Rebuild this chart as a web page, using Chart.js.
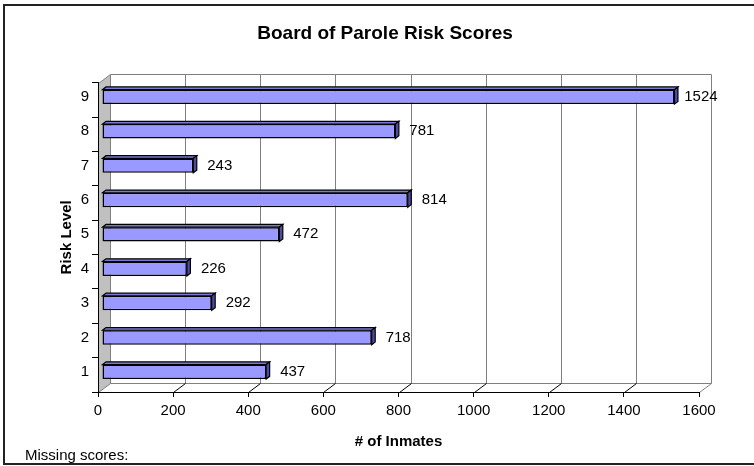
<!DOCTYPE html>
<html>
<head>
<meta charset="utf-8">
<script src="https://cdn.jsdelivr.net/npm/chart.js@4"></script>
<style>
  html, body { margin: 0; padding: 0; background: #fff; }
</style>
</head>
<body>
<canvas id="riskChart" width="754" height="466"></canvas>
<script>
var riskLevels = ["1", "2", "3", "4", "5", "6", "7", "8", "9"];
var inmateCounts = [437, 718, 292, 226, 472, 814, 243, 781, 1524];
var xMin = 0, xMax = 1600, xStep = 200;
var chartTitle = "Board of Parole Risk Scores";
var xTitle = "# of Inmates";
var yTitle = "Risk Level";
var footNote = "Missing scores:";

var FONT = '"Liberation Sans", Arial, sans-serif';
var WALL_DX = 12, WALL_DY = 9;      // depth of the 3d walls
var SHIFT_X = 4, SHIFT_Y = 3;       // bars sit a third deep into the box
var BAR_DX = 3.5, BAR_DY = 2.7;     // depth of each bar

function px(v) { return Math.round(v) + 0.5; } // crisp 1px lines

var frame3d = {
    id: "frame3d",
    beforeDraw: function (chart) {
        var ctx = chart.ctx, a = chart.chartArea, xs = chart.scales.x;
        var L = px(a.left), B = px(a.bottom), T = px(a.top), R = px(a.right);
        ctx.save();
        ctx.fillStyle = "#fff";
        ctx.fillRect(0, 0, chart.width, chart.height);

        // outer frame (runs off the right edge)
        ctx.strokeStyle = "#222";
        ctx.lineWidth = 2;
        ctx.strokeRect(4, 5, chart.width + 20, 459);

        // title + footnote
        ctx.fillStyle = "#000";
        ctx.font = "bold 19px " + FONT;
        ctx.textAlign = "center";
        ctx.textBaseline = "alphabetic";
        ctx.fillText(chartTitle, 385, 39);
        ctx.font = "15px " + FONT;
        ctx.textAlign = "left";
        ctx.fillText(footNote, 25, 460);

        ctx.lineWidth = 1;
        ctx.strokeStyle = "#808080";

        // left wall
        ctx.beginPath();
        ctx.moveTo(L, T);
        ctx.lineTo(L + WALL_DX, T - WALL_DY);
        ctx.lineTo(L + WALL_DX, B - WALL_DY);
        ctx.lineTo(L, B);
        ctx.closePath();
        ctx.fillStyle = "#c0c0c0";
        ctx.fill();
        ctx.stroke();

        // floor
        ctx.beginPath();
        ctx.moveTo(L + WALL_DX, B - WALL_DY);
        ctx.lineTo(R + WALL_DX, B - WALL_DY);
        ctx.lineTo(R, B);
        ctx.stroke();

        // back wall outline
        ctx.beginPath();
        ctx.moveTo(L + WALL_DX, T - WALL_DY);
        ctx.lineTo(R + WALL_DX, T - WALL_DY);
        ctx.lineTo(R + WALL_DX, B - WALL_DY);
        ctx.stroke();

        // gridlines on back wall, diagonals across the floor
        for (var v = xMin + xStep; v < xMax; v += xStep) {
            var x = px(xs.getPixelForValue(v));
            ctx.strokeStyle = "#808080";
            ctx.beginPath();
            ctx.moveTo(x + WALL_DX, T - WALL_DY);
            ctx.lineTo(x + WALL_DX, B - WALL_DY);
            ctx.stroke();
            ctx.strokeStyle = "#000";
            ctx.beginPath();
            ctx.moveTo(x, B);
            ctx.lineTo(x + WALL_DX, B - WALL_DY);
            ctx.stroke();
        }
        ctx.restore();
    }
};

var bars3d = {
    id: "bars3d",
    beforeDatasetsDraw: function (chart) {
        chart.ctx.save();
        chart.ctx.translate(SHIFT_X, -SHIFT_Y);
    },
    afterDatasetsDraw: function (chart) {
        var ctx = chart.ctx;
        var bars = chart.getDatasetMeta(0).data;
        ctx.lineWidth = 1.2;
        ctx.strokeStyle = "#000";
        bars.forEach(function (bar) {
            var top = bar.y - bar.height / 2, bot = bar.y + bar.height / 2;
            // top face
            ctx.beginPath();
            ctx.moveTo(bar.base, top);
            ctx.lineTo(bar.x, top);
            ctx.lineTo(bar.x + BAR_DX, top - BAR_DY);
            ctx.lineTo(bar.base + BAR_DX, top - BAR_DY);
            ctx.closePath();
            ctx.fillStyle = "#7a7ad6";
            ctx.fill();
            ctx.stroke();
            // end face
            ctx.beginPath();
            ctx.moveTo(bar.x, top);
            ctx.lineTo(bar.x + BAR_DX, top - BAR_DY);
            ctx.lineTo(bar.x + BAR_DX, bot - BAR_DY);
            ctx.lineTo(bar.x, bot);
            ctx.closePath();
            ctx.fillStyle = "#4d4d99";
            ctx.fill();
            ctx.stroke();
        });
        ctx.restore();

        // value labels
        ctx.save();
        ctx.font = "15px " + FONT;
        ctx.fillStyle = "#000";
        ctx.textAlign = "center";
        ctx.textBaseline = "middle";
        bars.forEach(function (bar, i) {
            ctx.fillText(String(inmateCounts[i]), bar.x + SHIFT_X + 26.5, bar.y - SHIFT_Y);
        });
        ctx.restore();
    }
};

var riskChart = new Chart(document.getElementById("riskChart"), {
    type: "bar",
    data: {
        labels: riskLevels,
        datasets: [
            {
                label: "Inmates",
                data: inmateCounts,
                backgroundColor: "#9999ff",
                borderColor: "#000",
                borderWidth: 1.5,
                borderSkipped: false,
                categoryPercentage: 1,
                barPercentage: 0.42,
            },
        ],
    },
    options: {
        indexAxis: "y",
        responsive: false,
        animation: false,
        events: [],
        layout: { padding: { left: 4, top: 82.7, right: 55, bottom: 0 } },
        plugins: {
            legend: { display: false },
            tooltip: { enabled: false },
        },
        scales: {
            x: {
                type: "linear",
                min: xMin,
                max: xMax,
                ticks: {
                    stepSize: xStep,
                    color: "#000",
                    font: { family: FONT, size: 15 },
                    padding: 5,
                    callback: function (v) { return String(v); },
                },
                grid: { drawOnChartArea: false, drawTicks: true, tickLength: 5, color: "#000" },
                border: { color: "#000", width: 1 },
                title: {
                    display: true,
                    text: xTitle,
                    color: "#000",
                    font: { family: FONT, size: 15, weight: "bold" },
                    padding: { top: 0, bottom: 15.3 },
                },
                afterFit: function (s) { s.height = 74; },
            },
            y: {
                type: "category",
                reverse: true,
                offset: true,
                ticks: { color: "#000", font: { family: FONT, size: 15 }, padding: 3, labelOffset: -3 },
                grid: { offset: true, drawOnChartArea: false, drawTicks: true, tickLength: 6, color: "#000" },
                border: { color: "#000", width: 1 },
                title: {
                    display: true,
                    text: yTitle,
                    color: "#000",
                    font: { family: FONT, size: 15, weight: "bold" },
                    padding: { top: 53.7, bottom: 0 },
                },
                afterFit: function (s) { s.width = 94; },
            },
        },
    },
    plugins: [frame3d, bars3d],
});
</script>
</body>
</html>
